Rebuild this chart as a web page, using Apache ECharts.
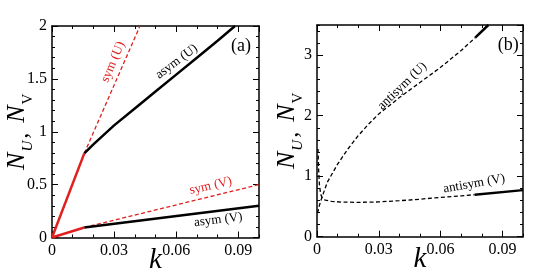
<!DOCTYPE html>
<html>
<head>
<meta charset="utf-8">
<script src="https://cdn.jsdelivr.net/npm/echarts@6/dist/echarts.min.js"></script>
<style>
html,body{margin:0;padding:0;background:#fff;}
#main{width:545px;height:280px;}
</style>
</head>
<body>
<div id="main"></div>
<script>
// panel (a): [k, N]
var aRedU = [[0,0],[0.0156,0.796]];
var aSymU = [[0.0156,0.796],[0.0425,2.0]];
var aAsymU = [[0.0156,0.796],[0.02,0.88],[0.025,0.97],[0.03,1.06],[0.04,1.22],[0.05,1.38],[0.06,1.54],[0.07,1.7],[0.08,1.86],[0.0884,2.0]];
var aRedV = [[0,0],[0.0156,0.095]];
var aSymV = [[0.0156,0.095],[0.1,0.5]];
var aAsymV = [[0.0156,0.095],[0.1,0.3]];

// panel (b)
var bAntiUDash = [[0.0003,0.39],[0.001,0.5],[0.0024,0.65],[0.005,0.9],[0.01,1.2],[0.015,1.45],[0.02,1.67],[0.025,1.86],[0.03,2.03],[0.04,2.3],[0.05,2.55],[0.06,2.8],[0.07,3.08],[0.0768,3.29]];
var bAntiUSolid = [[0.0768,3.29],[0.0832,3.5]];
var bAntiVDash = [[0.0005,1.45],[0.0008,1.1],[0.0012,0.85],[0.0018,0.7],[0.0026,0.64],[0.004,0.605],[0.007,0.585],[0.012,0.572],[0.02,0.568],[0.03,0.575],[0.04,0.595],[0.05,0.62],[0.06,0.65],[0.07,0.675],[0.0765,0.695]];
var bAntiVSolid = [[0.0765,0.695],[0.1,0.77]];

// axis ranges / ticks
var kRange = [0, 0.1], kMajor = 0.03, kMinor = 0.01;
var aNRange = [0, 2], aMajor = 0.5, aMinor = 0.1;
var bNRange = [0, 3.5], bMajor = 1, bMinor = 0.2;

// text annotations, anchored in data coordinates
var aNotes = [
	{text:'sym (U)', at:[0.0295,1.66], angle:67, red:true},
	{text:'asym (U)', at:[0.0602,1.663], angle:37},
	{text:'sym (V)', at:[0.0767,0.488], angle:13, red:true},
	{text:'asym (V)', at:[0.0803,0.167], angle:7},
	{text:'(a)', at:[0.0913,1.81], angle:0, big:true}
];
var bNotes = [
	{text:'antisym (U)', at:[0.0414,2.49], angle:44},
	{text:'antisym (V)', at:[0.0763,0.875], angle:10},
	{text:'(b)', at:[0.0928,3.17], angle:0, big:true}
];

this.fig = this.fig || {};
(function(){
	var FONT = "'Liberation Serif', 'Times New Roman', serif";
	var RED = '#e0201e';

	var Figure = function(){
		this.init();
	};
	var p = Figure.prototype;

	p.init = function(){
		this.initDom();
		this.initOption();
		this.chart.setOption(this.option);
		this.initNotes();
	};

	p.initDom = function(){
		this.chart = echarts.init(document.getElementById('main'), null, {renderer:'canvas'});
	};

	/* four axes per side pair: bottom/left major+minor, top/right major+minor */
	p.makeAxes = function(dim, g, range, major, minor, name, showMax, gap){
		var pos = dim == 'x' ? ['bottom','top'] : ['left','right'];
		var list = [];
		for(var s=0;s<2;s++){
			for(var m=0;m<2;m++){
				var isMajor = m == 0;
				var ax = {
					gridIndex: g,
					type: 'value',
					position: pos[s],
					min: range[0],
					max: range[1],
					interval: isMajor ? major : minor,
					axisLine: {show: isMajor, onZero:false, lineStyle:{color:'#000', width:1.5}},
					axisTick: {show:true, inside:true, length: isMajor ? 6 : 3, lineStyle:{color:'#000', width:1}},
					axisLabel: {show: s==0 && isMajor, margin:5, color:'#000', fontFamily:FONT, fontSize:16, showMaxLabel:!!showMax},
					splitLine: {show:false}
				};
				if(s==0 && isMajor && name){
					ax.name = name;
					ax.nameLocation = 'middle';
					ax.nameGap = gap;
					ax.nameMoveOverlap = false;
					if(dim == 'x'){
						ax.nameTextStyle = {fontFamily:FONT, fontStyle:'italic', fontSize:29, color:'#000'};
					}
					else{
						ax.nameRotate = 90;
						ax.nameTextStyle = {
							fontFamily:FONT, color:'#000',
							rich:{
								n:{fontFamily:FONT, fontStyle:'italic', fontSize:26, color:'#000'},
								u:{fontFamily:FONT, fontStyle:'italic', fontSize:15, color:'#000', padding:[22,0,0,1]},
								v:{fontFamily:FONT, fontSize:15, color:'#000', padding:[22,0,0,1]},
								c:{fontFamily:FONT, fontSize:24, color:'#000', padding:[6,10,0,2]}
							}
						};
					}
				}
				list.push(ax);
			}
		}
		return list;
	};

	p.line = function(data, xi, color, width, dashed){
		return {
			type:'line',
			xAxisIndex: xi,
			yAxisIndex: xi,
			data: data,
			showSymbol:false,
			symbol:'none',
			smooth:false,
			animation:false,
			lineStyle:{color:color, width:width, type: dashed ? [4,2.5] : 'solid'},
			z: dashed ? 2 : 3
		};
	};

	p.initOption = function(){
		var yName = '{n|N}{u|U}{c|,}{n|N}{v|V}';
		var xAxes = this.makeAxes('x',0,kRange,kMajor,kMinor,'k',false,8).concat(this.makeAxes('x',1,kRange,kMajor,kMinor,'k',false,8));
		var yAxes = this.makeAxes('y',0,aNRange,aMajor,aMinor,yName,true,16).concat(this.makeAxes('y',1,bNRange,bMajor,bMinor,yName,false,11));
		this.option = {
			animation:false,
			backgroundColor:'#fff',
			grid:[
				{left:52, top:26, width:207, height:211.5, containLabel:false, outerBoundsMode:'none'},
				{left:317, top:25, width:206, height:211.7, containLabel:false, outerBoundsMode:'none'}
			],
			xAxis: xAxes,
			yAxis: yAxes,
			series:[
				this.line(aSymU,0,RED,1.3,true),
				this.line(aSymV,0,RED,1.3,true),
				this.line(aAsymU,0,'#000',2.5,false),
				this.line(aAsymV,0,'#000',2.5,false),
				this.line(aRedU,0,RED,2.5,false),
				this.line(aRedV,0,RED,2.5,false),
				this.line(bAntiUDash,4,'#000',1.3,true),
				this.line(bAntiVDash,4,'#000',1.3,true),
				this.line(bAntiUSolid,4,'#000',2.5,false),
				this.line(bAntiVSolid,4,'#000',2.5,false)
			]
		};
	};

	p.initNotes = function(){
		var cur = this;
		var els = [];
		var add = function(notes, g){
			for(var i=0;i<notes.length;i++){
				var n = notes[i];
				var pt = cur.chart.convertToPixel({gridIndex:g}, n.at);
				els.push({
					type:'text',
					x: pt[0],
					y: pt[1],
					rotation: n.angle*Math.PI/180,
					silent:true,
					style:{
						text:n.text,
						fill: n.red ? RED : '#000',
						fontFamily: FONT,
						fontSize: n.big ? 18 : 13,
						align:'center',
						verticalAlign:'middle'
					}
				});
			}
		};
		add(aNotes,0);
		add(bNotes,1);
		this.chart.setOption({graphic:els});
	};

	fig.Figure = Figure;
})();

new fig.Figure();
</script>
</body>
</html>
